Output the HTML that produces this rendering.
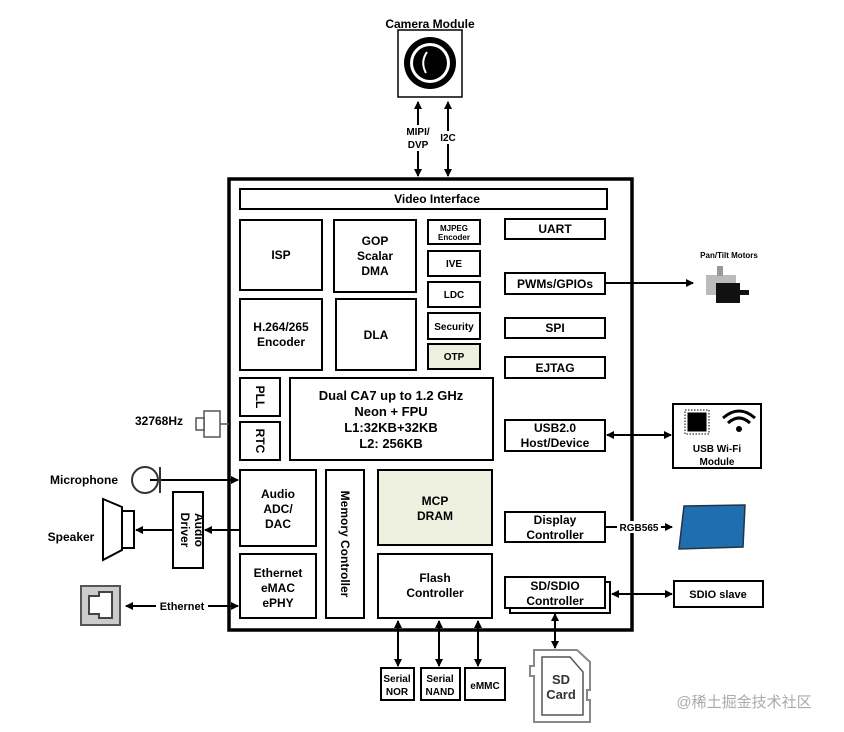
<!DOCTYPE html>
<html><head><meta charset="utf-8"><style>
html,body{margin:0;padding:0;background:#fff;width:844px;height:732px;overflow:hidden}
text{font-family:"Liberation Sans",Arial,sans-serif;font-weight:bold;fill:#000}
</style></head><body>
<svg width="844" height="732" viewBox="0 0 844 732" xmlns="http://www.w3.org/2000/svg">
<defs>
<marker id="a" markerWidth="8" markerHeight="8" refX="7" refY="4" orient="auto-start-reverse" markerUnits="userSpaceOnUse"><path d="M0,0 L8,4 L0,8 z" fill="#000"/></marker>
</defs>
<g stroke="#000" stroke-width="2" fill="#fff">
<rect x="229" y="179" width="403" height="451" stroke-width="3.5"/>
<rect x="240" y="189" width="367" height="20"/>
<rect x="240" y="220" width="82" height="70"/>
<rect x="334" y="220" width="82" height="72"/>
<rect x="428" y="220" width="52" height="24"/>
<rect x="428" y="251" width="52" height="25"/>
<rect x="428" y="282" width="52" height="25"/>
<rect x="428" y="313" width="52" height="26"/>
<rect x="428" y="344" width="52" height="25" fill="#eef0e0"/>
<rect x="505" y="219" width="100" height="20"/>
<rect x="505" y="273" width="100" height="21"/>
<rect x="505" y="318" width="100" height="20"/>
<rect x="505" y="357" width="100" height="21"/>
<rect x="240" y="299" width="82" height="71"/>
<rect x="336" y="299" width="80" height="71"/>
<rect x="240" y="378" width="40" height="38"/>
<rect x="240" y="422" width="40" height="38"/>
<rect x="290" y="378" width="203" height="82"/>
<rect x="505" y="420" width="100" height="31"/>
<rect x="240" y="470" width="76" height="76"/>
<rect x="326" y="470" width="38" height="148"/>
<rect x="378" y="470" width="114" height="75" fill="#eef0e0"/>
<rect x="240" y="554" width="76" height="64"/>
<rect x="378" y="554" width="114" height="64"/>
<rect x="505" y="512" width="100" height="30"/>
<rect x="510" y="582" width="100" height="31"/>
<rect x="505" y="577" width="100" height="31"/>
<rect x="398" y="30" width="64" height="67" stroke-width="1.5"/>
<rect x="173" y="492" width="30" height="76"/>
<rect x="673" y="404" width="88" height="64"/>
<rect x="674" y="581" width="89" height="26"/>
<rect x="381" y="668" width="33" height="32"/>
<rect x="421" y="668" width="39" height="32"/>
<rect x="465" y="668" width="40" height="32"/>
</g>
<circle cx="430" cy="63" r="26" fill="#000"/>
<circle cx="430" cy="63" r="20" fill="#fff"/>
<circle cx="430" cy="63" r="17" fill="#000"/>
<path d="M427,52 Q420,62 426,73" stroke="#fff" stroke-width="2" fill="none"/>
<g stroke="#000" stroke-width="2" fill="none">
<line x1="418" y1="102" x2="418" y2="176" marker-start="url(#a)" marker-end="url(#a)"/>
<line x1="448" y1="102" x2="448" y2="176" marker-start="url(#a)" marker-end="url(#a)"/>
<line x1="605" y1="283" x2="693" y2="283" marker-end="url(#a)"/>
<line x1="607" y1="435" x2="671" y2="435" marker-start="url(#a)" marker-end="url(#a)"/>
<line x1="605" y1="527" x2="672" y2="527" marker-end="url(#a)"/>
<line x1="612" y1="594" x2="672" y2="594" marker-start="url(#a)" marker-end="url(#a)"/>
<line x1="555" y1="614" x2="555" y2="648" marker-start="url(#a)" marker-end="url(#a)"/>
<line x1="398" y1="621" x2="398" y2="666" marker-start="url(#a)" marker-end="url(#a)"/>
<line x1="439" y1="621" x2="439" y2="666" marker-start="url(#a)" marker-end="url(#a)"/>
<line x1="478" y1="621" x2="478" y2="666" marker-start="url(#a)" marker-end="url(#a)"/>
<line x1="150" y1="480" x2="238" y2="480" marker-end="url(#a)"/>
<line x1="240" y1="530" x2="205" y2="530" marker-end="url(#a)"/>
<line x1="173" y1="530" x2="136" y2="530" marker-end="url(#a)"/>
<line x1="126" y1="606" x2="238" y2="606" marker-start="url(#a)" marker-end="url(#a)"/>
</g>
<g fill="#fff">
<rect x="403" y="125" width="31" height="26"/>
<rect x="438" y="131" width="20" height="13"/>
<rect x="617" y="521" width="44" height="12"/>
<rect x="156" y="599" width="52" height="14"/>
</g>
<g stroke="#555" stroke-width="1.5" fill="#fff">
<rect x="204" y="411" width="16" height="26"/>
<rect x="196" y="418" width="8" height="12"/>
<line x1="220" y1="424" x2="229" y2="424"/>
</g>
<circle cx="145" cy="480" r="13" fill="none" stroke="#333" stroke-width="2"/>
<line x1="160" y1="467" x2="160" y2="493" stroke="#333" stroke-width="2"/>
<path d="M103,499 L122,507 L122,550 L103,560 Z" fill="#fff" stroke="#000" stroke-width="2"/>
<rect x="122" y="511" width="12" height="37" fill="#fff" stroke="#000" stroke-width="2"/>
<rect x="81" y="586" width="39" height="39" fill="#ccc" stroke="#555" stroke-width="2"/>
<path d="M89,596 L99,596 L99,592 L112,592 L112,618 L99,618 L99,614 L89,614 Z" fill="#fff" stroke="#444" stroke-width="2"/>
<rect x="706" y="275" width="30" height="20" fill="#bbb"/>
<rect x="717" y="266" width="6" height="10" fill="#999"/>
<rect x="716" y="283" width="24" height="20" fill="#111"/>
<rect x="740" y="290" width="9" height="5" fill="#111"/>
<rect x="687" y="412" width="20" height="20" fill="#000" stroke="#fff" stroke-width="1"/>
<rect x="685" y="410" width="24" height="24" fill="none" stroke="#000" stroke-width="1" stroke-dasharray="1.5 1.5"/>
<path d="M723,418 Q739,404 755,418" stroke="#000" stroke-width="3" fill="none"/>
<path d="M728,423 Q739,413 750,423" stroke="#000" stroke-width="3" fill="none"/>
<circle cx="739" cy="429" r="3" fill="#000"/>
<path d="M684,506 L745,505 L743,547 L679,549 Z" fill="#1f6fb0" stroke="#234" stroke-width="1.5"/>
<path d="M534,650 L577,650 L590,662 L590,690 L587,690 L587,700 L590,700 L590,722 L534,722 L534,676 L530,676 L530,666 L534,666 Z" fill="#fff" stroke="#888" stroke-width="2"/>
<path d="M542,657 L570,657 L583,672 L583,715 L542,715 Z" fill="#fff" stroke="#555" stroke-width="1.5"/>
<g font-size="11" text-anchor="middle">
<text x="430" y="28" font-size="12">Camera Module</text>
<text x="418" y="135" font-size="10">MIPI/</text><text x="418" y="148" font-size="10">DVP</text>
<text x="448" y="141" font-size="10">I2C</text>
<text x="437" y="203" font-size="12">Video Interface</text>
<text x="281" y="259" font-size="12">ISP</text>
<text x="375" y="245" font-size="12">GOP</text><text x="375" y="260" font-size="12">Scalar</text><text x="375" y="275" font-size="12">DMA</text>
<text x="454" y="231" font-size="8">MJPEG</text><text x="454" y="240" font-size="8">Encoder</text>
<text x="454" y="267" font-size="10">IVE</text>
<text x="454" y="298" font-size="10">LDC</text>
<text x="454" y="330" font-size="10">Security</text>
<text x="454" y="360" font-size="10">OTP</text>
<text x="555" y="233" font-size="12">UART</text>
<text x="555" y="288" font-size="12">PWMs/GPIOs</text>
<text x="555" y="332" font-size="12">SPI</text>
<text x="555" y="372" font-size="12">EJTAG</text>
<text x="281" y="331" font-size="12">H.264/265</text><text x="281" y="346" font-size="12">Encoder</text>
<text x="376" y="339" font-size="12">DLA</text>
<text x="391" y="400" font-size="13">Dual CA7 up to 1.2 GHz</text>
<text x="391" y="416" font-size="13">Neon + FPU</text>
<text x="391" y="432" font-size="13">L1:32KB+32KB</text>
<text x="391" y="448" font-size="13">L2: 256KB</text>
<text transform="translate(256,397) rotate(90)" font-size="12">PLL</text>
<text transform="translate(256,441) rotate(90)" font-size="12">RTC</text>
<text x="555" y="432" font-size="12">USB2.0</text><text x="555" y="447" font-size="12">Host/Device</text>
<text x="278" y="498" font-size="12">Audio</text><text x="278" y="513" font-size="12">ADC/</text><text x="278" y="528" font-size="12">DAC</text>
<text transform="translate(341,544) rotate(90)" font-size="12">Memory Controller</text>
<text x="435" y="505" font-size="12">MCP</text><text x="435" y="520" font-size="12">DRAM</text>
<text x="278" y="577" font-size="12">Ethernet</text><text x="278" y="592" font-size="12">eMAC</text><text x="278" y="607" font-size="12">ePHY</text>
<text x="435" y="582" font-size="12">Flash</text><text x="435" y="597" font-size="12">Controller</text>
<text x="555" y="524" font-size="12">Display</text><text x="555" y="539" font-size="12">Controller</text>
<text x="555" y="590" font-size="12">SD/SDIO</text><text x="555" y="605" font-size="12">Controller</text>
<text transform="translate(195,530) rotate(90)" font-size="12">Audio</text>
<text transform="translate(181,530) rotate(90)" font-size="12">Driver</text>
<text x="729" y="258" font-size="8">Pan/Tilt Motors</text>
<text x="717" y="452" font-size="10">USB Wi-Fi</text><text x="717" y="465" font-size="10">Module</text>
<text x="639" y="531" font-size="10">RGB565</text>
<text x="718" y="598" font-size="11">SDIO slave</text>
<text x="397" y="682" font-size="10">Serial</text><text x="397" y="695" font-size="10">NOR</text>
<text x="440" y="682" font-size="10">Serial</text><text x="440" y="695" font-size="10">NAND</text>
<text x="485" y="689" font-size="10">eMMC</text>
<text x="561" y="684" font-size="13" style="fill:#333">SD</text><text x="561" y="699" font-size="13" style="fill:#333">Card</text>
<text x="159" y="425" font-size="12">32768Hz</text>
<text x="84" y="484" font-size="12">Microphone</text>
<text x="71" y="541" font-size="12">Speaker</text>
<text x="182" y="610" font-size="11">Ethernet</text>
<text x="744" y="707" font-size="15" style="fill:#aaa;font-family:'Liberation Sans','Noto Sans CJK SC',sans-serif;font-weight:normal">@稀土掘金技术社区</text>
</g>
</svg>
</body></html>
